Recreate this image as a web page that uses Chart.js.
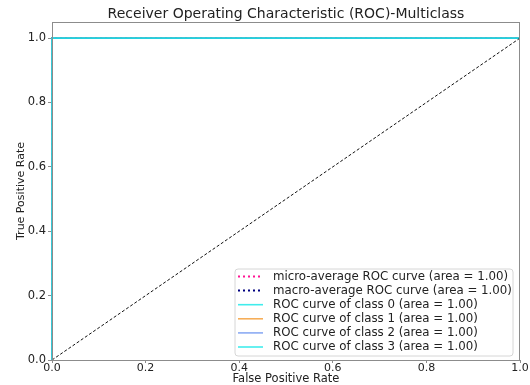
<!DOCTYPE html>
<html>
<head>
<meta charset="utf-8">
<script src="https://cdn.jsdelivr.net/npm/chart.js@4.4.0/dist/chart.umd.min.js"></script>
<style>
  html, body { margin: 0; padding: 0; background: #ffffff; }
  #wrap { width: 530px; height: 385px; }
</style>
</head>
<body>
<div id="wrap"><canvas id="roc" width="530" height="385"></canvas></div>
<script>
// ROC curve points (false positive rate / true positive rate)
const microFpr = [0, 0, 1];
const microTpr = [0, 1, 1];
const macroFpr = [0, 0, 1];
const macroTpr = [0, 1, 1];
const class0Fpr = [0, 0, 1];
const class0Tpr = [0, 1, 1];
const class1Fpr = [0, 0, 1];
const class1Tpr = [0, 1, 1];
const class2Fpr = [0, 0, 1];
const class2Tpr = [0, 1, 1];
const class3Fpr = [0, 0, 1];
const class3Tpr = [0, 1, 1];
// chance diagonal
const chanceFpr = [0, 1];
const chanceTpr = [0, 1];

// area under each curve
const aucMicro = 1.00;
const aucMacro = 1.00;
const aucClasses = [1.00, 1.00, 1.00, 1.00];

const xTickValues = [0.0, 0.2, 0.4, 0.6, 0.8, 1.0];
const yTickValues = [0.0, 0.2, 0.4, 0.6, 0.8, 1.0];

const chartTitle = 'Receiver Operating Characteristic (ROC)-Multiclass';
const xAxisLabel = 'False Positive Rate';
const yAxisLabel = 'True Positive Rate';

const FONT = "'DejaVu Sans', sans-serif";
const TEXT = '#222222';
const SPINE = '#8c8c8c';

function pts(xs, ys) { return xs.map((x, i) => ({ x: x, y: ys[i] })); }

const datasets = [
  { label: 'micro-average ROC curve (area = ' + aucMicro.toFixed(2) + ')',
    data: pts(microFpr, microTpr), borderColor: '#ff1493', borderWidth: 2, borderDash: [2, 3], order: 6 },
  { label: 'macro-average ROC curve (area = ' + aucMacro.toFixed(2) + ')',
    data: pts(macroFpr, macroTpr), borderColor: '#000080', borderWidth: 2, borderDash: [2, 3], order: 5 },
  { label: 'ROC curve of class 0 (area = ' + aucClasses[0].toFixed(2) + ')',
    data: pts(class0Fpr, class0Tpr), borderColor: 'rgba(0,230,230,0.75)', borderWidth: 1.6, order: 4 },
  { label: 'ROC curve of class 1 (area = ' + aucClasses[1].toFixed(2) + ')',
    data: pts(class1Fpr, class1Tpr), borderColor: 'rgba(245,160,60,0.85)', borderWidth: 1.6, order: 3 },
  { label: 'ROC curve of class 2 (area = ' + aucClasses[2].toFixed(2) + ')',
    data: pts(class2Fpr, class2Tpr), borderColor: 'rgba(110,150,240,0.8)', borderWidth: 1.6, order: 2 },
  { label: 'ROC curve of class 3 (area = ' + aucClasses[3].toFixed(2) + ')',
    data: pts(class3Fpr, class3Tpr), borderColor: 'rgba(0,230,230,0.75)', borderWidth: 1.6, order: 1 },
  { label: 'chance', inLegend: false,
    data: pts(chanceFpr, chanceTpr), borderColor: '#111111', borderWidth: 1, borderDash: [3, 2], order: 0 }
];
datasets.forEach(d => {
  d.showLine = true;
  d.pointRadius = 0;
  d.pointHoverRadius = 0;
  d.fill = false;
  d.tension = 0;
  d.clip = 2;
});

// frame, title and in-plot legend
const decorations = {
  id: 'decorations',
  afterDatasetsDraw(chart) {
    const { ctx, chartArea: a } = chart;
    ctx.save();
    // four spines
    ctx.strokeStyle = SPINE;
    ctx.lineWidth = 1;
    ctx.strokeRect(Math.round(a.left) + 0.5, Math.round(a.top) + 0.5,
                   Math.round(a.right - a.left) - 1, Math.round(a.bottom - a.top));

    // title centred over the plot area
    ctx.fillStyle = TEXT;
    ctx.font = '14px ' + FONT;
    ctx.textAlign = 'center';
    ctx.textBaseline = 'middle';
    ctx.fillText(chartTitle, (a.left + a.right) / 2, 14);

    // legend box
    const items = chart.data.datasets.filter(d => d.inLegend !== false);
    const bx = 235, by = 269, bw = 278, bh = 87, r = 3;
    ctx.beginPath();
    ctx.moveTo(bx + r, by);
    ctx.arcTo(bx + bw, by, bx + bw, by + bh, r);
    ctx.arcTo(bx + bw, by + bh, bx, by + bh, r);
    ctx.arcTo(bx, by + bh, bx, by, r);
    ctx.arcTo(bx, by, bx + bw, by, r);
    ctx.closePath();
    ctx.fillStyle = 'rgba(255,255,255,0.85)';
    ctx.fill();
    ctx.strokeStyle = '#d6d6d6';
    ctx.lineWidth = 1;
    ctx.stroke();

    ctx.font = '11.8px ' + FONT;
    ctx.textAlign = 'left';
    items.forEach((d, i) => {
      const y = 276.5 + i * 14.1;
      ctx.beginPath();
      ctx.strokeStyle = d.borderColor;
      ctx.lineWidth = d.borderWidth;
      ctx.setLineDash(d.borderDash || []);
      ctx.moveTo(238, y);
      ctx.lineTo(263, y);
      ctx.stroke();
      ctx.setLineDash([]);
      ctx.fillStyle = TEXT;
      ctx.fillText(d.label, 273, y);
    });
    ctx.restore();
  }
};

new Chart(document.getElementById('roc'), {
  type: 'scatter',
  data: { datasets: datasets },
  options: {
    responsive: false,
    devicePixelRatio: 1,
    animation: false,
    events: [],
    layout: { padding: { top: 22, right: 10, left: 0, bottom: 0 } },
    plugins: {
      legend: { display: false },
      title: { display: false },
      tooltip: { enabled: false }
    },
    scales: {
      x: {
        type: 'linear', min: 0, max: 1,
        afterBuildTicks: s => { s.ticks = xTickValues.map(v => ({ value: v })); },
        afterFit: s => { s.height = 25; },
        ticks: { color: TEXT, font: { family: FONT, size: 11 }, padding: -1,
                 maxRotation: 0, callback: v => Number(v).toFixed(1) },
        grid: { drawOnChartArea: false, drawTicks: true, tickLength: 3, tickColor: SPINE },
        border: { display: false },
        title: { display: true, text: xAxisLabel, color: TEXT,
                 font: { family: FONT, size: 11.5, lineHeight: 1.1 }, padding: { top: 0, bottom: 0 } }
      },
      y: {
        type: 'linear', min: 0, max: 1.05,
        afterBuildTicks: s => { s.ticks = yTickValues.map(v => ({ value: v })); },
        afterFit: s => { s.width = 52; },
        ticks: { color: TEXT, font: { family: FONT, size: 11.5 }, padding: 2,
                 callback: v => Number(v).toFixed(1) },
        grid: { drawOnChartArea: false, drawTicks: true, tickLength: 4, tickColor: SPINE },
        border: { display: false },
        title: { display: true, text: yAxisLabel, color: TEXT,
                 font: { family: FONT, size: 11 }, padding: { top: 15, bottom: 0 } }
      }
    }
  },
  plugins: [decorations]
});
</script>
</body>
</html>
